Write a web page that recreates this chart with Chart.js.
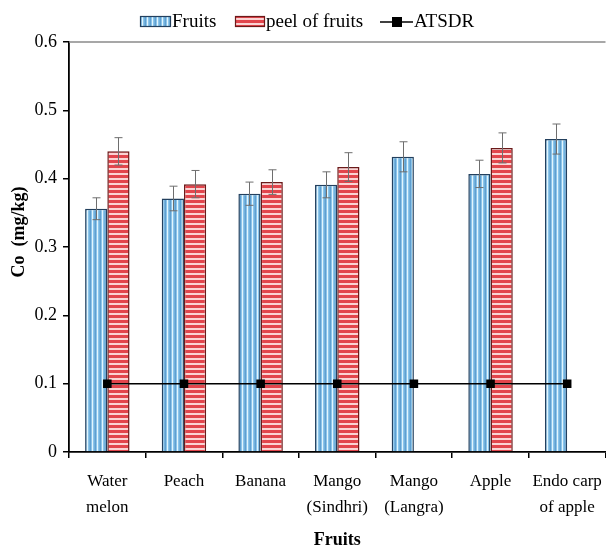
<!DOCTYPE html>
<html>
<head>
<meta charset="utf-8">
<script src="https://cdn.jsdelivr.net/npm/chart.js@4.4.0/dist/chart.umd.min.js"></script>
<style>
  html, body { margin: 0; padding: 0; background: #fff; overflow: hidden; }
  #wrap { width: 606px; height: 547px; position: relative; overflow: hidden; }
  #c { display: block; }
</style>
</head>
<body>
<div id="wrap"><canvas id="c" width="612" height="547"></canvas></div>
<script>
// ---- data ----
const categories = [["Water", "melon"], "Peach", "Banana", ["Mango", "(Sindhri)"], ["Mango", "(Langra)"], "Apple", ["Endo carp", "of apple"]];
const fruitValues = [0.356, 0.371, 0.378, 0.391, 0.432, 0.407, 0.458];
const fruitErrors = [0.016, 0.018, 0.017, 0.019, 0.022, 0.020, 0.022];
const peelValues  = [0.440, 0.392, 0.395, 0.417, null, 0.445, null];
const peelErrors  = [0.020, 0.020, 0.018, 0.021, null, 0.022, null];
const atsdrValues = [0.1, 0.1, 0.1, 0.1, 0.1, 0.1, 0.1];
const yTicks = [0, 0.1, 0.2, 0.3, 0.4, 0.5, 0.6];
const seriesNames = ["Fruits", "peel of fruits", "ATSDR"];
const xTitle = "Fruits";
const yTitle = "Co  (mg/kg)";

// ---- patterns ----
function bluePattern() {
  const p = document.createElement('canvas');
  p.width = 5; p.height = 4;
  const g = p.getContext('2d');
  const cols = ['#5f9fd0', '#8cc5ea', '#e2f5fd', '#8cc5ea', '#72b2de'];
  cols.forEach((c, i) => { g.fillStyle = c; g.fillRect(i, 0, 1, 4); });
  return g.createPattern(p, 'repeat');
}
function redPattern() {
  const p = document.createElement('canvas');
  p.width = 4; p.height = 5;
  const g = p.getContext('2d');
  g.fillStyle = '#e2454c'; g.fillRect(0, 0, 4, 5);
  g.fillStyle = '#fbd3d3'; g.fillRect(0, 3, 4, 2);
  return g.createPattern(p, 'repeat');
}
const blueFill = bluePattern();
const redFill = redPattern();

const serif = "'Liberation Serif', 'Times New Roman', serif";

// ---- plugins ----
const errorBars = {
  id: 'errorBars',
  afterDatasetsDraw(chart) {
    const ctx = chart.ctx;
    const y = chart.scales.y;
    const sets = [[0, fruitValues, fruitErrors], [1, peelValues, peelErrors]];
    ctx.save();
    ctx.strokeStyle = '#6e6e6e';
    ctx.lineWidth = 1;
    sets.forEach(([di, vals, errs]) => {
      const meta = chart.getDatasetMeta(di);
      meta.data.forEach((bar, i) => {
        if (vals[i] == null) return;
        const x = Math.round(bar.x) + 0.5;
        const yt = y.getPixelForValue(vals[i] + errs[i]);
        const yb = y.getPixelForValue(vals[i] - errs[i]);
        ctx.beginPath();
        ctx.moveTo(x, yt); ctx.lineTo(x, yb);
        ctx.moveTo(x - 4, yt); ctx.lineTo(x + 4, yt);
        ctx.moveTo(x - 4, yb); ctx.lineTo(x + 4, yb);
        ctx.stroke();
      });
    });
    ctx.restore();
  }
};

const frameAndLegend = {
  id: 'frameAndLegend',
  afterDraw(chart) {
    const ctx = chart.ctx;
    const a = chart.chartArea;
    ctx.save();
    ctx.strokeStyle = '#8a8a8a';
    ctx.lineWidth = 1.5;
    ctx.beginPath();
    ctx.moveTo(a.left, a.top); ctx.lineTo(a.right, a.top);
    ctx.stroke();
    ctx.save();
    ctx.translate(19, 232);
    ctx.rotate(-Math.PI / 2);
    ctx.font = "bold 18px " + serif;
    ctx.textAlign = 'center';
    ctx.textBaseline = 'middle';
    ctx.fillStyle = '#000';
    ctx.fillText(yTitle, 0, 0);
    ctx.restore();
    ctx.font = "19px " + serif;
    ctx.textBaseline = 'middle';
    const ly = 22;
    ctx.fillStyle = blueFill;
    ctx.fillRect(140, 16, 31, 11);
    ctx.strokeStyle = '#23405e'; ctx.lineWidth = 1.2;
    ctx.strokeRect(140.5, 16.5, 30, 10);
    ctx.fillStyle = '#000';
    ctx.fillText(seriesNames[0], 172, ly);
    ctx.fillStyle = redFill;
    ctx.fillRect(235, 16, 30, 11);
    ctx.strokeStyle = '#6b1a1a';
    ctx.strokeRect(235.5, 16.5, 29, 10);
    ctx.fillStyle = '#000';
    ctx.fillText(seriesNames[1], 266, ly);
    ctx.strokeStyle = '#000'; ctx.lineWidth = 1.5;
    ctx.beginPath(); ctx.moveTo(380, ly); ctx.lineTo(413, ly); ctx.stroke();
    ctx.fillRect(392, ly - 5, 10, 10);
    ctx.fillText(seriesNames[2], 414, ly);
    ctx.restore();
  }
};

new Chart(document.getElementById('c'), {
  type: 'bar',
  data: {
    labels: categories,
    datasets: [
      {
        label: seriesNames[0], data: fruitValues,
        backgroundColor: blueFill, borderColor: '#23405e', borderWidth: 1.5,
        categoryPercentage: 0.58, barPercentage: 1.0, order: 2
      },
      {
        label: seriesNames[1], data: peelValues,
        backgroundColor: redFill, borderColor: '#6b1a1a', borderWidth: 1.5,
        categoryPercentage: 0.58, barPercentage: 1.0, order: 2
      },
      {
        type: 'line', label: seriesNames[2], data: atsdrValues,
        borderColor: '#000', borderWidth: 1.5, backgroundColor: '#000',
        pointStyle: 'rect', pointRadius: 5, pointBackgroundColor: '#000',
        pointBorderColor: '#000', fill: false, order: 0
      }
    ]
  },
  options: {
    responsive: false,
    animation: false,
    devicePixelRatio: 1,
    layout: { padding: { left: 0, right: 0, top: 42, bottom: 0 } },
    plugins: {
      legend: { display: false },
      tooltip: { enabled: false }
    },
    scales: {
      x: {
        offset: true,
        grid: { display: true, drawOnChartArea: false, drawTicks: true, tickLength: 6, color: '#000', lineWidth: 1.5, offset: true },
        border: { display: true, color: '#000', width: 1.8 },
        ticks: { color: '#000', font: { family: serif, size: 17, lineHeight: 1.55 }, maxRotation: 0, autoSkip: false, padding: 10 },
        title: { display: true, text: xTitle, color: '#000', font: { family: serif, size: 18, weight: 'bold' }, padding: { top: 0, bottom: -4 } },
        afterFit(scale) { scale.height = 95; scale.paddingLeft = 0; scale.paddingRight = 0; }
      },
      y: {
        min: 0, max: 0.6,
        afterBuildTicks(scale) { scale.ticks = yTicks.map(v => ({ value: v })); },
        grid: { display: true, drawOnChartArea: false, drawTicks: true, tickLength: 6, color: '#000', lineWidth: 1.5 },
        border: { display: true, color: '#000', width: 1.8 },
        ticks: {
          color: '#000', font: { family: serif, size: 18 }, padding: 6,
          callback: v => (v === 0 ? '0' : v.toFixed(1))
        },
        title: { display: false },
        afterFit(scale) { scale.width = 69; }
      }
    }
  },
  plugins: [errorBars, frameAndLegend]
});
</script>
</body>
</html>
